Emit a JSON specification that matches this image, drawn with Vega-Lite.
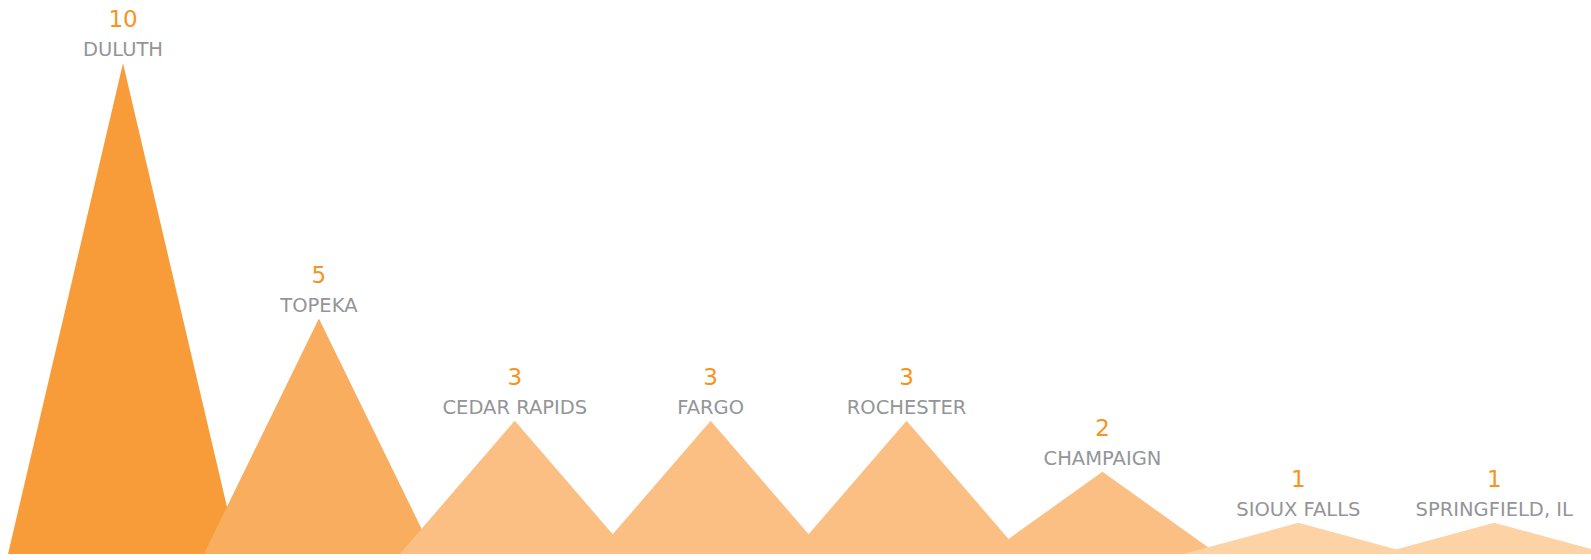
{
  "$schema": "https://vega.github.io/schema/vega-lite/v6.json",
  "width": 1591,
  "height": 554,
  "padding": 0,
  "autosize": "none",
  "background": "white",
  "config": {"view": {"stroke": null}},
  "data": {"values": [
    {"city": "DULUTH", "pos": -0.587, "value": 0},
    {"city": "DULUTH", "pos": 0, "value": 10},
    {"city": "DULUTH", "pos": 0.587, "value": 0},
    {"city": "TOPEKA", "pos": 0.413, "value": 0},
    {"city": "TOPEKA", "pos": 1, "value": 5},
    {"city": "TOPEKA", "pos": 1.587, "value": 0},
    {"city": "CEDAR RAPIDS", "pos": 1.413, "value": 0},
    {"city": "CEDAR RAPIDS", "pos": 2, "value": 3},
    {"city": "CEDAR RAPIDS", "pos": 2.587, "value": 0},
    {"city": "FARGO", "pos": 2.413, "value": 0},
    {"city": "FARGO", "pos": 3, "value": 3},
    {"city": "FARGO", "pos": 3.587, "value": 0},
    {"city": "ROCHESTER", "pos": 3.413, "value": 0},
    {"city": "ROCHESTER", "pos": 4, "value": 3},
    {"city": "ROCHESTER", "pos": 4.587, "value": 0},
    {"city": "CHAMPAIGN", "pos": 4.413, "value": 0},
    {"city": "CHAMPAIGN", "pos": 5, "value": 2},
    {"city": "CHAMPAIGN", "pos": 5.587, "value": 0},
    {"city": "SIOUX FALLS", "pos": 5.413, "value": 0},
    {"city": "SIOUX FALLS", "pos": 6, "value": 1},
    {"city": "SIOUX FALLS", "pos": 6.587, "value": 0},
    {"city": "SPRINGFIELD, IL", "pos": 6.413, "value": 0},
    {"city": "SPRINGFIELD, IL", "pos": 7, "value": 1},
    {"city": "SPRINGFIELD, IL", "pos": 7.587, "value": 0}
  ]},
  "encoding": {
    "x": {"field": "pos", "type": "quantitative", "axis": null,
          "scale": {"domain": [-0.628, 7.494], "nice": false, "zero": false}},
    "y": {"field": "value", "type": "quantitative", "axis": null,
          "scale": {"domain": [0.388, 11.24], "nice": false, "zero": false, "clamp": true}}
  },
  "layer": [
    {
      "mark": {"type": "area", "interpolate": "linear", "opacity": 1},
      "encoding": {
        "y": {"field": "value", "type": "quantitative", "stack": null, "axis": null,
              "scale": {"domain": [0.388, 11.24], "nice": false, "zero": false, "clamp": true}},
        "color": {"field": "city", "type": "nominal", "legend": null,
          "scale": {
            "domain": ["DULUTH", "TOPEKA", "CEDAR RAPIDS", "FARGO", "ROCHESTER", "CHAMPAIGN", "SIOUX FALLS", "SPRINGFIELD, IL"],
            "range": ["#F79C38", "#F9AD5F", "#FBBF84", "#FBBF84", "#FBBF84", "#FBBF84", "#FDD3A6", "#FDD3A6"]
          }}
      }
    },
    {
      "transform": [{"filter": "datum.value > 0"}],
      "mark": {"type": "text", "font": "DejaVu Sans", "fontSize": 19.5, "color": "#939598", "baseline": "alphabetic", "align": "center", "dy": -7},
      "encoding": {"text": {"field": "city"}}
    },
    {
      "transform": [{"filter": "datum.value > 0"}],
      "mark": {"type": "text", "font": "DejaVu Sans", "fontSize": 23, "color": "#F7941D", "baseline": "alphabetic", "align": "center", "dy": -36},
      "encoding": {"text": {"field": "value", "type": "quantitative"}}
    }
  ]
}
